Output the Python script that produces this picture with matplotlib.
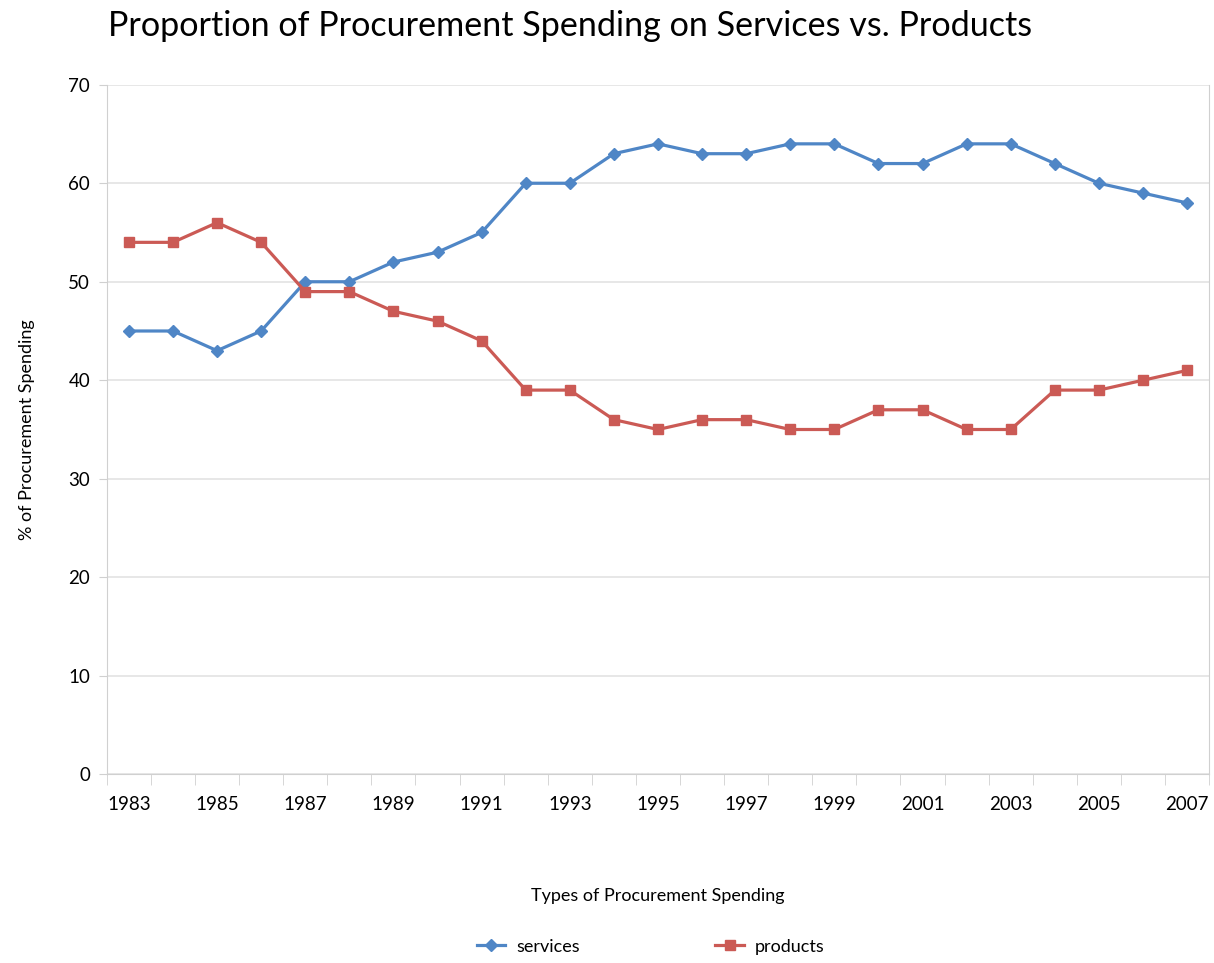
import numpy as np
import matplotlib.pyplot as plt

years = list(range(1983, 2008))
services = [45, 45, 43, 45, 50, 50, 52, 53, 55, 60, 60, 63, 64, 63, 63,
            64, 64, 62, 62, 64, 64, 62, 60, 59, 58]
products = [54, 54, 56, 54, 49, 49, 47, 46, 44, 39, 39, 36, 35, 36, 36,
            35, 35, 37, 37, 35, 35, 39, 39, 40, 41]

plt.rcParams['font.family'] = ['Lato', 'DejaVu Sans']

fig = plt.figure(figsize=(12.14, 9.63), dpi=100)
ax = fig.add_axes([0.088, 0.196, 0.908, 0.716])

x = np.arange(len(years))
ax.plot(x, services, color='#4F86C6', lw=2.3, marker='D', ms=6, label='services')
ax.plot(x, products, color='#CB5A55', lw=2.3, marker='s', ms=7.5, label='products')

ax.set_xlim(-0.5, len(years) - 0.5)
ax.set_ylim(0, 70)
ax.set_yticks(range(0, 71, 10))
ax.yaxis.grid(True, color='#E3E3E3', lw=1.2)
ax.set_axisbelow(True)

ax.set_xticks(x[::2])
ax.set_xticklabels([str(y) for y in years[::2]])
ax.set_xticks(np.arange(-0.5, len(years)), minor=True)
ax.tick_params(axis='x', which='major', length=0, pad=16, labelsize=13.5)
ax.tick_params(axis='x', which='minor', length=8, color='#D0D0D0', direction='out')
ax.tick_params(axis='y', length=6, color='#D0D0D0', labelsize=13.5, pad=6)

ax.spines['top'].set_visible(False)
for s in ['left', 'bottom', 'right']:
    ax.spines[s].set_color('#D0D0D0')

ax.set_ylabel('% of Procurement Spending', fontsize=13, labelpad=24)
ax.set_xlabel('Types of Procurement Spending', fontsize=13, labelpad=54)

fig.text(0.089, 0.973, 'Proportion of Procurement Spending on Services vs. Products',
         fontsize=24.6, va='center', ha='left')

fig.legend(loc='center', bbox_to_anchor=(0.536, 0.017), ncol=2, frameon=False,
           fontsize=13, columnspacing=7.5, handlelength=1.6, handletextpad=0.6)

fig.savefig('out.png', dpi=100)
